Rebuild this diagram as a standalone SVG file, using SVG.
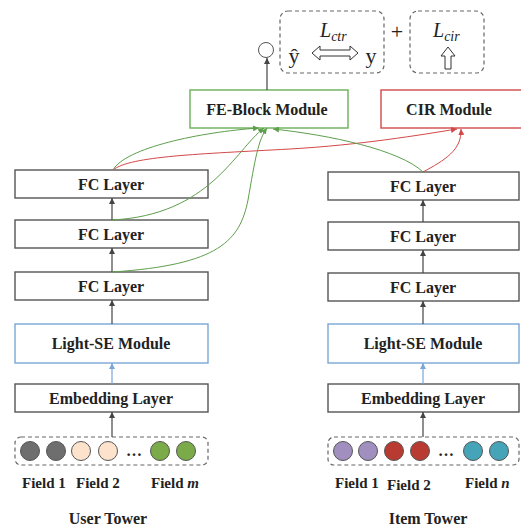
<svg xmlns="http://www.w3.org/2000/svg" width="521" height="527" viewBox="0 0 521 527">
  <style>
    .lbl { font-family: "Liberation Serif", "Times New Roman", serif; font-weight: bold; font-size: 16px; fill: #222; text-anchor: middle; }
    .fld { font-family: "Liberation Serif", "Times New Roman", serif; font-weight: bold; font-size: 15px; fill: #222; }
    .math { font-family: "Liberation Serif", "Times New Roman", serif; fill: #222; }
    .box { fill: #fff; stroke: #555; stroke-width: 1.4; }
    .se { fill: #fff; stroke: #7aa7d8; stroke-width: 1.4; }
    .fe { fill: #fff; stroke: #6aae58; stroke-width: 1.4; }
    .cir { fill: #fff; stroke: #d04a4a; stroke-width: 1.4; }
    .dash { fill: none; stroke: #666; stroke-width: 1.2; stroke-dasharray: 4 3; }
    .dot { stroke: #555; stroke-width: 1; }
    .up { stroke: #444; stroke-width: 1.2; fill: none; marker-end: url(#arrDark); }
    .upb { stroke: #7aa7d8; stroke-width: 1.2; fill: none; marker-end: url(#arrBlue); }
    .g { stroke: #5e9e4c; stroke-width: 1; fill: none; marker-end: url(#arrGreen); }
    .r { stroke: #d24848; stroke-width: 1; fill: none; marker-end: url(#arrRed); }
    .hollow { fill: #fff; stroke: #333; stroke-width: 1; }
  </style>
  <defs>
    <marker id="arrDark" markerUnits="userSpaceOnUse" markerWidth="6" markerHeight="6" refX="6" refY="3" orient="auto">
      <path d="M0,0 L6,3 L0,6 Z" fill="#444"/>
    </marker>
    <marker id="arrBlue" markerUnits="userSpaceOnUse" markerWidth="6" markerHeight="6" refX="6" refY="3" orient="auto">
      <path d="M0,0 L6,3 L0,6 Z" fill="#7aa7d8"/>
    </marker>
    <marker id="arrGreen" markerUnits="userSpaceOnUse" markerWidth="6" markerHeight="6" refX="6" refY="3" orient="auto">
      <path d="M0,0 L6,3 L0,6 Z" fill="#5e9e4c"/>
    </marker>
    <marker id="arrRed" markerUnits="userSpaceOnUse" markerWidth="6" markerHeight="6" refX="6" refY="3" orient="auto">
      <path d="M0,0 L6,3 L0,6 Z" fill="#d24848"/>
    </marker>
  </defs>
  <rect width="521" height="527" fill="#fff"/>

  <!-- loss terms -->
  <g id="output">
    <circle cx="266" cy="50" r="7.5" fill="#fff" stroke="#555" stroke-width="1"/>
  </g>
  <g id="loss-ctr">
    <rect class="dash" x="280" y="11" width="104" height="62" rx="8"/>
    <text class="math" x="320" y="37" font-size="20" font-style="italic">L<tspan font-size="14" dy="4">ctr</tspan></text>
    <text class="math" x="294" y="63" font-size="22" text-anchor="middle">ŷ</text>
    <path class="hollow" d="M312,53 L320,46 L320,50 L350,50 L350,46 L358,53 L350,60 L350,56 L320,56 L320,60 Z"/>
    <text class="math" x="371" y="63" font-size="22" text-anchor="middle">y</text>
  </g>
  <text class="math" x="397" y="39" font-size="22" text-anchor="middle">+</text>
  <g id="loss-cir">
    <rect class="dash" x="410" y="11" width="74" height="62" rx="8"/>
    <text class="math" x="433" y="37" font-size="20" font-style="italic">L<tspan font-size="14" dy="4">cir</tspan></text>
    <path class="hollow" d="M448,47 L455,56 L451,56 L451,69 L445,69 L445,56 L441,56 Z"/>
  </g>

  <!-- top modules -->
  <g id="fe-block">
    <rect class="fe" x="190" y="90" width="158" height="38"/>
    <text class="lbl" x="267" y="115">FE-Block Module</text>
  </g>
  <g id="cir-module">
    <rect class="cir" x="381" y="90" width="145" height="38"/>
    <text class="lbl" x="449" y="115">CIR Module</text>
  </g>

  <!-- user tower -->
  <g id="user-fc1"><rect class="box" x="15" y="170" width="193" height="28"/><text class="lbl" x="111" y="190">FC Layer</text></g>
  <g id="user-fc2"><rect class="box" x="15" y="220" width="193" height="28"/><text class="lbl" x="111" y="240">FC Layer</text></g>
  <g id="user-fc3"><rect class="box" x="15" y="272" width="193" height="28"/><text class="lbl" x="111" y="292">FC Layer</text></g>
  <g id="user-se"><rect class="se" x="15" y="324" width="193" height="39"/><text class="lbl" x="111" y="349">Light-SE Module</text></g>
  <g id="user-emb"><rect class="box" x="15" y="384" width="193" height="28"/><text class="lbl" x="111" y="404">Embedding Layer</text></g>
  <g id="user-fields">
    <rect class="dash" x="15" y="437" width="193" height="28" rx="6"/>
    <circle class="dot" cx="30" cy="451" r="9.5" fill="#6e6e6e"/>
    <circle class="dot" cx="56" cy="451" r="9.5" fill="#6e6e6e"/>
    <circle class="dot" cx="81" cy="451" r="9.5" fill="#fde3cc" stroke="#999"/>
    <circle class="dot" cx="108" cy="451" r="9.5" fill="#fde3cc" stroke="#999"/>
    <text class="lbl" x="134" y="456">…</text>
    <circle class="dot" cx="160" cy="451" r="9.5" fill="#7bab48"/>
    <circle class="dot" cx="186" cy="451" r="9.5" fill="#7bab48"/>
    <text class="fld" x="22" y="488">Field 1</text>
    <text class="fld" x="76" y="488">Field 2</text>
    <text class="fld" x="151" y="488">Field <tspan font-style="italic">m</tspan></text>
  </g>
  <text class="lbl" x="108" y="524">User Tower</text>

  <!-- item tower -->
  <g id="item-fc1"><rect class="box" x="328" y="172" width="191" height="28"/><text class="lbl" x="423" y="192">FC Layer</text></g>
  <g id="item-fc2"><rect class="box" x="328" y="222" width="191" height="28"/><text class="lbl" x="423" y="242">FC Layer</text></g>
  <g id="item-fc3"><rect class="box" x="328" y="273" width="191" height="28"/><text class="lbl" x="423" y="293">FC Layer</text></g>
  <g id="item-se"><rect class="se" x="328" y="324" width="191" height="39"/><text class="lbl" x="423" y="349">Light-SE Module</text></g>
  <g id="item-emb"><rect class="box" x="328" y="384" width="191" height="28"/><text class="lbl" x="423" y="404">Embedding Layer</text></g>
  <g id="item-fields">
    <rect class="dash" x="328" y="437" width="191" height="28" rx="6"/>
    <circle class="dot" cx="343" cy="451" r="9.5" fill="#a08fbf"/>
    <circle class="dot" cx="368" cy="451" r="9.5" fill="#a08fbf"/>
    <circle class="dot" cx="394" cy="451" r="9.5" fill="#b83a30"/>
    <circle class="dot" cx="420" cy="451" r="9.5" fill="#b83a30"/>
    <text class="lbl" x="446" y="456">…</text>
    <circle class="dot" cx="473" cy="451" r="9.5" fill="#45a4b8"/>
    <circle class="dot" cx="499" cy="451" r="9.5" fill="#45a4b8"/>
    <text class="fld" x="335" y="488">Field 1</text>
    <text class="fld" x="387" y="490">Field 2</text>
    <text class="fld" x="465" y="488">Field <tspan font-style="italic">n</tspan></text>
  </g>
  <text class="lbl" x="428" y="524">Item Tower</text>

  <!-- connectors -->
  <g id="connectors">
    <path class="up" d="M267,90 L267,58"/>
    <path class="up" d="M112,220 L112,198"/>
    <path class="up" d="M112,272 L112,248"/>
    <path class="up" d="M112,324 L112,300"/>
    <path class="upb" d="M112,384 L112,363"/>
    <path class="up" d="M112,437 L112,412"/>
    <path class="up" d="M423,222 L423,200"/>
    <path class="up" d="M423,273 L423,250"/>
    <path class="up" d="M423,324 L423,301"/>
    <path class="upb" d="M423,384 L423,363"/>
    <path class="up" d="M423,437 L423,412"/>
    <path class="g" d="M113,170 C125,148 200,132 259,128"/>
    <path class="r" d="M113,170 C130,156 200,154 290,149 C360,145 420,135 457,129"/>
    <path class="g" d="M112,220 C210,215 235,150 264,128"/>
    <path class="g" d="M112,272 C220,265 240,240 248,200 C255,160 258,140 267,128"/>
    <path class="g" d="M423,172 C400,150 330,135 273,129"/>
    <path class="r" d="M423,172 C445,160 462,150 461,129"/>
  </g>
</svg>
